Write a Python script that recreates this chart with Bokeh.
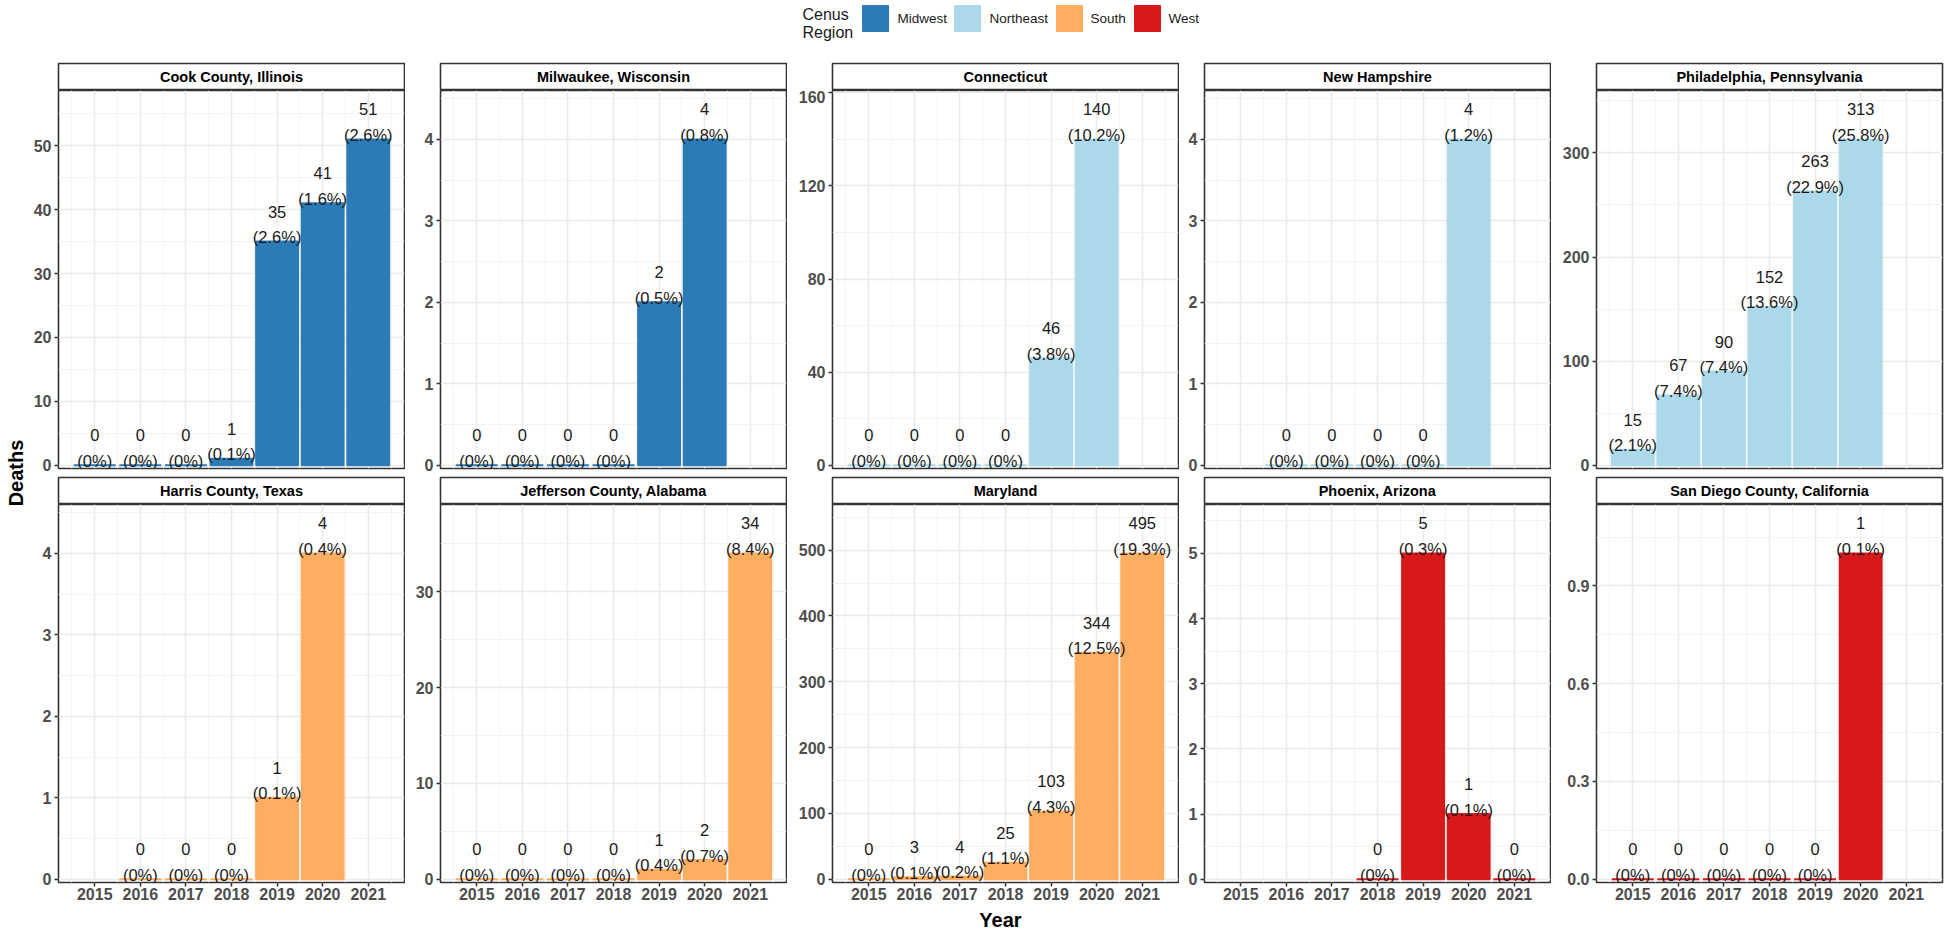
import math
from bokeh.plotting import figure
from bokeh.models import Range1d, FixedTicker, NumeralTickFormatter, ColumnDataSource
from bokeh.layouts import row, column
from bokeh.core.properties import value
from bokeh.embed import file_html
from bokeh.resources import INLINE

# ---------------- data ----------------
YEARS = [2015, 2016, 2017, 2018, 2019, 2020, 2021]
REGIONS = ["Midwest", "Northeast", "South", "West"]
REGION_COLORS = ["#2C7BB6", "#ABD9E9", "#FDAE61", "#D7191C"]
LEGEND_TITLE = ["Cenus", "Region"]

PANEL_NAMES = ["Cook County, Illinois", "Milwaukee, Wisconsin", "Connecticut",
               "New Hampshire", "Philadelphia, Pennsylvania",
               "Harris County, Texas", "Jefferson County, Alabama", "Maryland",
               "Phoenix, Arizona", "San Diego County, California"]
PANEL_REGIONS = ["Midwest", "Midwest", "Northeast", "Northeast", "Northeast",
                 "South", "South", "South", "West", "West"]

cook_years = [2015, 2016, 2017, 2018, 2019, 2020, 2021]
cook_deaths = [0, 0, 0, 1, 35, 41, 51]
cook_pct = [0, 0, 0, 0.1, 2.6, 1.6, 2.6]
cook_yticks = [0, 10, 20, 30, 40, 50]

milwaukee_years = [2015, 2016, 2017, 2018, 2019, 2020]
milwaukee_deaths = [0, 0, 0, 0, 2, 4]
milwaukee_pct = [0, 0, 0, 0, 0.5, 0.8]
milwaukee_yticks = [0, 1, 2, 3, 4]

connecticut_years = [2015, 2016, 2017, 2018, 2019, 2020]
connecticut_deaths = [0, 0, 0, 0, 46, 140]
connecticut_pct = [0, 0, 0, 0, 3.8, 10.2]
connecticut_yticks = [0, 40, 80, 120, 160]

nh_years = [2016, 2017, 2018, 2019, 2020]
nh_deaths = [0, 0, 0, 0, 4]
nh_pct = [0, 0, 0, 0, 1.2]
nh_yticks = [0, 1, 2, 3, 4]

philly_years = [2015, 2016, 2017, 2018, 2019, 2020]
philly_deaths = [15, 67, 90, 152, 263, 313]
philly_pct = [2.1, 7.4, 7.4, 13.6, 22.9, 25.8]
philly_yticks = [0, 100, 200, 300]

harris_years = [2016, 2017, 2018, 2019, 2020]
harris_deaths = [0, 0, 0, 1, 4]
harris_pct = [0, 0, 0, 0.1, 0.4]
harris_yticks = [0, 1, 2, 3, 4]

jefferson_years = [2015, 2016, 2017, 2018, 2019, 2020, 2021]
jefferson_deaths = [0, 0, 0, 0, 1, 2, 34]
jefferson_pct = [0, 0, 0, 0, 0.4, 0.7, 8.4]
jefferson_yticks = [0, 10, 20, 30]

maryland_years = [2015, 2016, 2017, 2018, 2019, 2020, 2021]
maryland_deaths = [0, 3, 4, 25, 103, 344, 495]
maryland_pct = [0, 0.1, 0.2, 1.1, 4.3, 12.5, 19.3]
maryland_yticks = [0, 100, 200, 300, 400, 500]

phoenix_years = [2018, 2019, 2020, 2021]
phoenix_deaths = [0, 5, 1, 0]
phoenix_pct = [0, 0.3, 0.1, 0]
phoenix_yticks = [0, 1, 2, 3, 4, 5]

sandiego_years = [2015, 2016, 2017, 2018, 2019, 2020]
sandiego_deaths = [0, 0, 0, 0, 0, 1]
sandiego_pct = [0, 0, 0, 0, 0, 0.1]
sandiego_yticks = [0, 0.3, 0.6, 0.9]

PANEL_DATA = [
    (cook_years, cook_deaths, cook_pct, cook_yticks, "0"),
    (milwaukee_years, milwaukee_deaths, milwaukee_pct, milwaukee_yticks, "0"),
    (connecticut_years, connecticut_deaths, connecticut_pct, connecticut_yticks, "0"),
    (nh_years, nh_deaths, nh_pct, nh_yticks, "0"),
    (philly_years, philly_deaths, philly_pct, philly_yticks, "0"),
    (harris_years, harris_deaths, harris_pct, harris_yticks, "0"),
    (jefferson_years, jefferson_deaths, jefferson_pct, jefferson_yticks, "0"),
    (maryland_years, maryland_deaths, maryland_pct, maryland_yticks, "0"),
    (phoenix_years, phoenix_deaths, phoenix_pct, phoenix_yticks, "0"),
    (sandiego_years, sandiego_deaths, sandiego_pct, sandiego_yticks, "0.0"),
]

# ---------------- styling / layout ----------------
FONT = "Liberation Sans"
TOTAL_W = 1950
TOTAL_H = 930
FRAME_W = 346
FRAME_H = 378
STRIP_H = 26
LEFT_BORDERS = [28, 35, 45, 25, 45]
RIGHT_BORDERS = [1, 1, 1, 1, 8]
LEGEND_H = 61
ROW1_BOTTOM = 7
ROW2_BOTTOM = 26
DEATHS_W = 30
BAR_WIDTH = 0.92
BORDER_COLOR = "#333333"
AXIS_TEXT_COLOR = "#4D4D4D"
GRID_MAJOR = "#EBEBEB"
GRID_MINOR = "#F4F4F4"

STRIP_TOTAL = 2 + STRIP_H + 1
PANELS_H = 2 * STRIP_TOTAL + 2 * FRAME_H + ROW1_BOTTOM + ROW2_BOTTOM
YEAR_H = TOTAL_H - LEGEND_H - PANELS_H

color_of = dict(zip(REGIONS, REGION_COLORS))


def fmt_pct(p):
    return "(%s%%)" % ("0" if p == 0 else ("%g" % p))


def minors(ticks, hi):
    step = ticks[1] - ticks[0]
    out = [t + step / 2 for t in ticks]
    return [m for m in out if m < hi]


def make_strip(name, lb, rb):
    s = figure(frame_width=FRAME_W, frame_height=STRIP_H,
               x_range=Range1d(0, 1), y_range=Range1d(0, 1),
               min_border_left=lb, min_border_right=rb, min_border_top=2,
               min_border_bottom=1, x_axis_location=None, y_axis_location=None,
               toolbar_location=None, tools="", output_backend="svg")
    s.grid.visible = False
    s.outline_line_color = BORDER_COLOR
    s.outline_line_width = 1.6
    s.background_fill_color = "white"
    s.border_fill_color = "white"
    s.text(x=[0.5], y=[0.5], text=[name], text_align="center",
           text_baseline="middle", text_font=value(FONT),
           text_font_style="bold", text_font_size="14.5px", text_color="black")
    return s


def make_panel(idx, lb, rb, bottom_row):
    years, deaths, pct, yticks, yfmt = PANEL_DATA[idx]
    color = color_of[PANEL_REGIONS[idx]]
    m = max(deaths)
    y0, y1 = -0.01 * m, 1.15 * m
    span = max(YEARS) - min(YEARS) + 0.9
    x0 = min(YEARS) - 0.45 - 0.05 * span
    x1 = max(YEARS) + 0.45 + 0.05 * span
    p = figure(frame_width=FRAME_W, frame_height=FRAME_H,
               x_range=Range1d(x0, x1), y_range=Range1d(y0, y1),
               min_border_left=lb, min_border_right=rb, min_border_top=0,
               min_border_bottom=ROW2_BOTTOM if bottom_row else ROW1_BOTTOM,
               toolbar_location=None, tools="", output_backend="svg")
    p.outline_line_color = BORDER_COLOR
    p.outline_line_width = 1.6
    p.background_fill_color = "white"
    p.border_fill_color = "white"

    xt = FixedTicker(ticks=YEARS,
                     minor_ticks=[y - 0.5 for y in YEARS] + [max(YEARS) + 0.5])
    yt = FixedTicker(ticks=yticks, minor_ticks=minors(yticks, y1))
    p.xaxis.ticker = xt
    p.yaxis.ticker = yt
    p.xgrid.ticker = xt
    p.ygrid.ticker = yt
    for g in (p.xgrid, p.ygrid):
        g.grid_line_color = GRID_MAJOR
        g.grid_line_width = 1.6
        g.minor_grid_line_color = GRID_MINOR
        g.minor_grid_line_width = 1.0

    p.yaxis.formatter = NumeralTickFormatter(format=yfmt)
    for ax in (p.xaxis, p.yaxis):
        ax.axis_line_color = None
        ax.minor_tick_line_color = None
        ax.major_tick_in = 0
        ax.major_tick_out = 4
        ax.major_tick_line_color = BORDER_COLOR
        ax.major_tick_line_width = 1.5
        ax.major_label_text_font = FONT
        ax.major_label_text_font_style = "bold"
        ax.major_label_text_font_size = "16px"
        ax.major_label_text_color = AXIS_TEXT_COLOR
    p.yaxis.major_label_standoff = 3
    p.xaxis.major_label_standoff = 1
    if not bottom_row:
        p.xaxis.visible = False

    src = ColumnDataSource(dict(
        year=years, deaths=deaths,
        num=[str(d) for d in deaths],
        pct=[fmt_pct(v) for v in pct]))
    p.vbar(x="year", top="deaths", bottom=0, width=BAR_WIDTH, source=src,
           fill_color=color, line_color=color, line_width=2)
    p.text(x="year", y="deaths", text="num", source=src, y_offset=-30,
           text_align="center", text_baseline="middle", text_font=value(FONT),
           text_font_size="16.5px", text_color="#1A1A1A")
    p.text(x="year", y="deaths", text="pct", source=src, y_offset=-4.5,
           text_align="center", text_baseline="middle", text_font=value(FONT),
           text_font_size="16.5px", text_color="#1A1A1A")
    return p


def blank_fig(w, h, flip=True):
    f = figure(width=w, height=h, x_range=Range1d(0, w),
               y_range=Range1d(h, 0) if flip else Range1d(0, h), min_border=0,
               x_axis_location=None, y_axis_location=None,
               toolbar_location=None, tools="", output_backend="svg")
    f.grid.visible = False
    f.outline_line_color = None
    f.background_fill_color = "white"
    f.border_fill_color = "white"
    return f


# ---------------- legend ----------------
leg = blank_fig(TOTAL_W, LEGEND_H)
KEY_LEFT = [862, 954, 1056, 1134]
LABEL_LEFT = [897, 989, 1090, 1168]
KEY_SIZE = 26
KEY_TOP = 5
leg.quad(left=KEY_LEFT, right=[k + KEY_SIZE for k in KEY_LEFT],
         top=[KEY_TOP] * 4, bottom=[KEY_TOP + KEY_SIZE] * 4,
         fill_color=REGION_COLORS, line_color=REGION_COLORS, line_width=1)
leg.text(x=LABEL_LEFT, y=[KEY_TOP + KEY_SIZE / 2] * 4,
         text=REGIONS, text_align="left", text_baseline="middle",
         text_font=value(FONT), text_font_size="13.5px", text_color="#1A1A1A")
leg.text(x=[802, 802], y=[13.5, 31.5], text=LEGEND_TITLE, text_align="left",
         text_baseline="middle", text_font=value(FONT),
         text_font_size="16px", text_color="#1A1A1A")

# ---------------- panels ----------------
rows = []
for r in range(2):
    cols = []
    for c in range(5):
        idx = r * 5 + c
        lb, rb = LEFT_BORDERS[c], RIGHT_BORDERS[c]
        cols.append(column(make_strip(PANEL_NAMES[idx], lb, rb),
                           make_panel(idx, lb, rb, r == 1), spacing=0))
    rows.append(row(*cols, spacing=0))

# y-axis title (rotated), centred on the two panel rows
deaths = blank_fig(DEATHS_W, PANELS_H, flip=False)
panel_mid = (2 + (STRIP_TOTAL + FRAME_H + ROW1_BOTTOM + STRIP_TOTAL + FRAME_H)) / 2
deaths.text(x=[15.5], y=[PANELS_H - panel_mid], text=["Deaths"], angle=math.pi / 2,
            text_align="center", text_baseline="middle",
            text_font=value(FONT), text_font_style="bold",
            text_font_size="20px", text_color="black")

# x-axis title
yearf = blank_fig(TOTAL_W, YEAR_H)
panels_center_x = DEATHS_W + LEFT_BORDERS[0] + (
    sum(LEFT_BORDERS) + 5 * FRAME_W + sum(RIGHT_BORDERS[:4]) - LEFT_BORDERS[0]) / 2
yearf.text(x=[panels_center_x], y=[YEAR_H / 2], text=["Year"], text_align="center",
           text_baseline="middle", text_font=value(FONT),
           text_font_style="bold", text_font_size="20px", text_color="black")

layout = column(leg,
                row(deaths, column(*rows, spacing=0), spacing=0),
                yearf, spacing=0)

open("out.html", "w").write(file_html(layout, INLINE))
